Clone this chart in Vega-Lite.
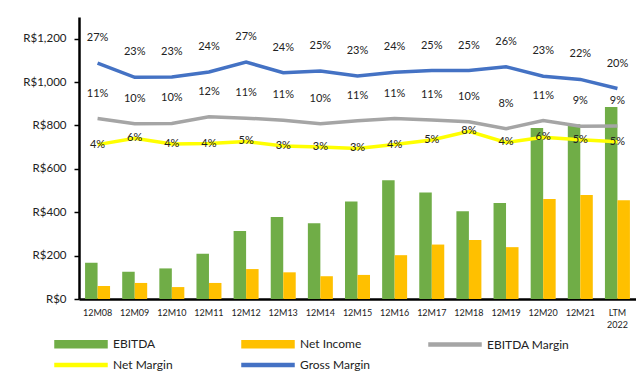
{
  "$schema": "https://vega.github.io/schema/vega-lite/v6.json",
  "width": 557,
  "height": 282,
  "autosize": {"type": "none"},
  "padding": {"left": 79, "top": 17, "right": 0, "bottom": 75},
  "background": "white",
  "config": {"view": {"stroke": null}, "font": "Lato"},
  "datasets": {
    "bars": [
      {"period": "12M08", "series": "EBITDA", "value": 167}, {"period": "12M08", "series": "Net Income", "value": 60},
      {"period": "12M09", "series": "EBITDA", "value": 126}, {"period": "12M09", "series": "Net Income", "value": 74},
      {"period": "12M10", "series": "EBITDA", "value": 141}, {"period": "12M10", "series": "Net Income", "value": 55},
      {"period": "12M11", "series": "EBITDA", "value": 209}, {"period": "12M11", "series": "Net Income", "value": 74},
      {"period": "12M12", "series": "EBITDA", "value": 314}, {"period": "12M12", "series": "Net Income", "value": 138},
      {"period": "12M13", "series": "EBITDA", "value": 378}, {"period": "12M13", "series": "Net Income", "value": 123},
      {"period": "12M14", "series": "EBITDA", "value": 349}, {"period": "12M14", "series": "Net Income", "value": 105},
      {"period": "12M15", "series": "EBITDA", "value": 449}, {"period": "12M15", "series": "Net Income", "value": 111},
      {"period": "12M16", "series": "EBITDA", "value": 548}, {"period": "12M16", "series": "Net Income", "value": 202},
      {"period": "12M17", "series": "EBITDA", "value": 491}, {"period": "12M17", "series": "Net Income", "value": 251},
      {"period": "12M18", "series": "EBITDA", "value": 405}, {"period": "12M18", "series": "Net Income", "value": 272},
      {"period": "12M19", "series": "EBITDA", "value": 442}, {"period": "12M19", "series": "Net Income", "value": 239},
      {"period": "12M20", "series": "EBITDA", "value": 788}, {"period": "12M20", "series": "Net Income", "value": 461},
      {"period": "12M21", "series": "EBITDA", "value": 806}, {"period": "12M21", "series": "Net Income", "value": 480},
      {"period": "LTM 2022", "series": "EBITDA", "value": 885}, {"period": "LTM 2022", "series": "Net Income", "value": 455}
    ],
    "margins": [
      {"period": "12M08", "series": "Gross Margin", "margin": 0.269}, {"period": "12M08", "series": "EBITDA Margin", "margin": 0.112}, {"period": "12M08", "series": "Net Margin", "margin": 0.038},
      {"period": "12M09", "series": "Gross Margin", "margin": 0.229}, {"period": "12M09", "series": "EBITDA Margin", "margin": 0.097}, {"period": "12M09", "series": "Net Margin", "margin": 0.056},
      {"period": "12M10", "series": "Gross Margin", "margin": 0.23}, {"period": "12M10", "series": "EBITDA Margin", "margin": 0.098}, {"period": "12M10", "series": "Net Margin", "margin": 0.04},
      {"period": "12M11", "series": "Gross Margin", "margin": 0.244}, {"period": "12M11", "series": "EBITDA Margin", "margin": 0.117}, {"period": "12M11", "series": "Net Margin", "margin": 0.041},
      {"period": "12M12", "series": "Gross Margin", "margin": 0.272}, {"period": "12M12", "series": "EBITDA Margin", "margin": 0.113}, {"period": "12M12", "series": "Net Margin", "margin": 0.047},
      {"period": "12M13", "series": "Gross Margin", "margin": 0.242}, {"period": "12M13", "series": "EBITDA Margin", "margin": 0.107}, {"period": "12M13", "series": "Net Margin", "margin": 0.034},
      {"period": "12M14", "series": "Gross Margin", "margin": 0.247}, {"period": "12M14", "series": "EBITDA Margin", "margin": 0.097}, {"period": "12M14", "series": "Net Margin", "margin": 0.031},
      {"period": "12M15", "series": "Gross Margin", "margin": 0.233}, {"period": "12M15", "series": "EBITDA Margin", "margin": 0.106}, {"period": "12M15", "series": "Net Margin", "margin": 0.027},
      {"period": "12M16", "series": "Gross Margin", "margin": 0.243}, {"period": "12M16", "series": "EBITDA Margin", "margin": 0.112}, {"period": "12M16", "series": "Net Margin", "margin": 0.038},
      {"period": "12M17", "series": "Gross Margin", "margin": 0.248}, {"period": "12M17", "series": "EBITDA Margin", "margin": 0.108}, {"period": "12M17", "series": "Net Margin", "margin": 0.051},
      {"period": "12M18", "series": "Gross Margin", "margin": 0.248}, {"period": "12M18", "series": "EBITDA Margin", "margin": 0.103}, {"period": "12M18", "series": "Net Margin", "margin": 0.076},
      {"period": "12M19", "series": "Gross Margin", "margin": 0.259}, {"period": "12M19", "series": "EBITDA Margin", "margin": 0.083}, {"period": "12M19", "series": "Net Margin", "margin": 0.044},
      {"period": "12M20", "series": "Gross Margin", "margin": 0.232}, {"period": "12M20", "series": "EBITDA Margin", "margin": 0.106}, {"period": "12M20", "series": "Net Margin", "margin": 0.059},
      {"period": "12M21", "series": "Gross Margin", "margin": 0.223}, {"period": "12M21", "series": "EBITDA Margin", "margin": 0.09}, {"period": "12M21", "series": "Net Margin", "margin": 0.052},
      {"period": "LTM 2022", "series": "Gross Margin", "margin": 0.197}, {"period": "LTM 2022", "series": "EBITDA Margin", "margin": 0.091}, {"period": "LTM 2022", "series": "Net Margin", "margin": 0.046}
    ]
  },
  "encoding": {
    "x": {
      "field": "period",
      "type": "nominal",
      "scale": {
        "domain": ["12M08", "12M09", "12M10", "12M11", "12M12", "12M13", "12M14", "12M15", "12M16", "12M17", "12M18", "12M19", "12M20", "12M21", "LTM 2022"],
        "paddingInner": 0.327,
        "paddingOuter": 0.1635
      },
      "axis": {
        "title": null,
        "labelAngle": 0,
        "labelFont": "Lato",
        "labelFontSize": 9,
        "labelColor": "#222",
        "ticks": false,
        "tickSize": 0,
        "domainColor": "#000",
        "domainWidth": 2.5,
        "labelPadding": 9,
        "labelOverlap": false,
        "labelLineHeight": 12,
        "labelExpr": "datum.value == 'LTM 2022' ? ['LTM', '2022'] : datum.value"
      }
    }
  },
  "layer": [
    {
      "data": {"name": "bars"},
      "mark": {"type": "bar"},
      "encoding": {
        "xOffset": {"field": "series", "type": "nominal", "scale": {"domain": ["EBITDA", "Net Income"], "paddingInner": 0, "paddingOuter": 0}},
        "y": {
          "field": "value",
          "type": "quantitative",
          "scale": {"domain": [0, 1300], "nice": false},
          "axis": {
            "title": null,
            "values": [0, 200, 400, 600, 800, 1000, 1200],
            "labelExpr": "'R$' + format(datum.value, ',')",
            "grid": false,
            "domainColor": "#000",
            "domainWidth": 2.5,
            "tickColor": "#000",
            "tickSize": 5,
            "tickWidth": 1.5,
            "labelPadding": 8,
            "labelFont": "Lato",
            "labelFontSize": 11.5,
            "labelColor": "#222"
          }
        },
        "color": {
          "field": "series",
          "type": "nominal",
          "scale": {
            "domain": ["EBITDA", "Net Income", "EBITDA Margin", "Net Margin", "Gross Margin"],
            "range": ["#70AD47", "#FFC000", "#A5A5A5", "#FFFF00", "#4472C4"]
          },
          "legend": {
            "title": null,
            "orient": "none",
            "legendX": -12,
            "legendY": 313,
            "direction": "horizontal",
            "columns": 3,
            "gridAlign": "all",
            "columnPadding": 43,
            "rowPadding": -3,
            "padding": 0,
            "symbolSize": 676,
            "labelFont": "Lato",
            "labelFontSize": 12,
            "labelColor": "#222",
            "labelOffset": 18,
            "encode": {
              "symbols": {
                "update": {
                  "shape": {"signal": "indexof(['EBITDA','Net Income'], datum.value) >= 0 ? 'M-2,-0.27H2V0.27H-2Z' : 'M-2,-0.115H2V0.115H-2Z'"},
                  "fill": {"scale": "color", "field": "value"},
                  "stroke": {"value": "transparent"},
                  "opacity": {"value": 1}
                }
              }
            }
          }
        }
      }
    },
    {
      "data": {"name": "margins"},
      "mark": {"type": "line", "strokeWidth": 3.5},
      "encoding": {
        "y": {"field": "margin", "type": "quantitative", "scale": {"domain": [-0.4, 0.4], "nice": false}, "axis": null},
        "color": {"field": "series", "type": "nominal"}
      }
    },
    {
      "data": {"name": "margins"},
      "transform": [{"filter": "datum.series != 'Net Margin'"}],
      "mark": {"type": "text", "dy": -25, "font": "Lato", "fontSize": 11, "color": "#222"},
      "encoding": {
        "y": {"field": "margin", "type": "quantitative", "scale": {"domain": [-0.4, 0.4], "nice": false}, "axis": null},
        "text": {"field": "margin", "type": "quantitative", "format": ".0%"}
      }
    },
    {
      "data": {"name": "margins"},
      "transform": [{"filter": "datum.series == 'Net Margin'"}],
      "mark": {"type": "text", "dy": 0, "font": "Lato", "fontSize": 11, "color": "#222"},
      "encoding": {
        "y": {"field": "margin", "type": "quantitative", "scale": {"domain": [-0.4, 0.4], "nice": false}, "axis": null},
        "text": {"field": "margin", "type": "quantitative", "format": ".0%"}
      }
    }
  ],
  "resolve": {"scale": {"y": "independent"}}
}
